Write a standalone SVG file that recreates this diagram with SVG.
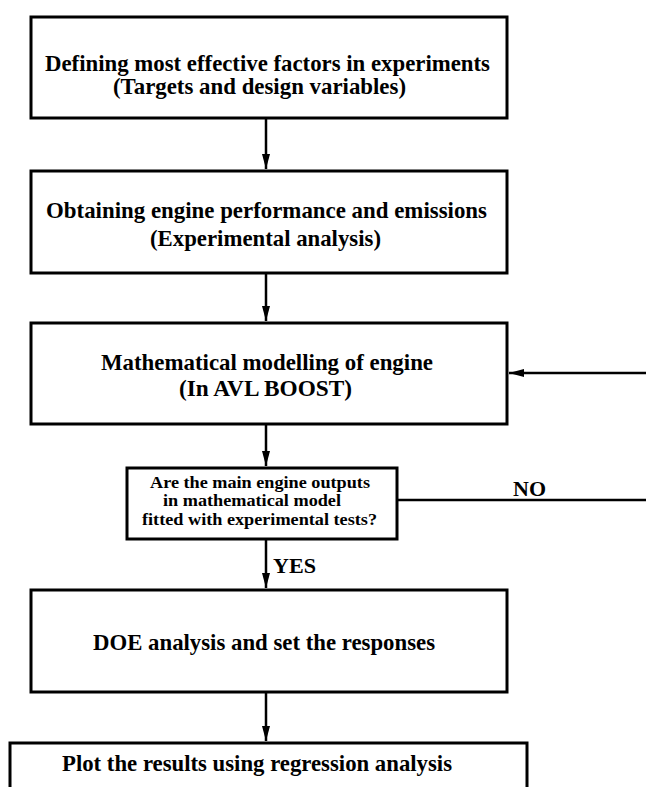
<svg xmlns="http://www.w3.org/2000/svg" width="646" height="787" viewBox="0 0 646 787">
<style>
.box{fill:#fff;stroke:#000;stroke-width:3}
.t{font-family:"Liberation Serif","Times New Roman","DejaVu Serif",serif;font-weight:bold;fill:#000}
.m{font-size:23px}
.s{font-size:17px}
.c{stroke:#000;stroke-width:2.5;fill:none}
</style>
<defs>
<marker id="ah" markerUnits="userSpaceOnUse" markerWidth="16" markerHeight="10" refX="15" refY="5" orient="auto">
<path d="M0,1 L15,5 L0,9 Z" fill="#000"/>
</marker>
</defs>
<rect width="646" height="787" fill="#fff"/>
<g id="connectors">
<line class="c" x1="266" y1="118" x2="266" y2="169" marker-end="url(#ah)"/>
<line class="c" x1="266" y1="273" x2="266" y2="321" marker-end="url(#ah)"/>
<line class="c" x1="266" y1="424" x2="266" y2="466" marker-end="url(#ah)"/>
<line class="c" x1="266" y1="539" x2="266" y2="588" marker-end="url(#ah)"/>
<line class="c" x1="266" y1="692" x2="266" y2="741" marker-end="url(#ah)"/>
<line class="c" x1="397" y1="500" x2="646" y2="500"/>
<line class="c" x1="646" y1="373" x2="509" y2="373" marker-end="url(#ah)"/>
<text class="t" x="513" y="496" font-size="22" textLength="33" lengthAdjust="spacingAndGlyphs">NO</text>
<text class="t" x="273" y="573" font-size="22" textLength="43" lengthAdjust="spacingAndGlyphs">YES</text>
</g>
<g id="n1">
<rect class="box" x="31" y="17" width="476" height="101"/>
<text class="t m" x="45" y="71" textLength="445" lengthAdjust="spacingAndGlyphs">Defining most effective factors in experiments</text>
<text class="t m" x="113" y="94" textLength="293" lengthAdjust="spacingAndGlyphs">(Targets and design variables)</text>
</g>
<g id="n2">
<rect class="box" x="31" y="171" width="476" height="102"/>
<text class="t m" x="46" y="218" textLength="441" lengthAdjust="spacingAndGlyphs">Obtaining engine performance and emissions</text>
<text class="t m" x="150" y="246" textLength="231" lengthAdjust="spacingAndGlyphs">(Experimental analysis)</text>
</g>
<g id="n3">
<rect class="box" x="31" y="323" width="476" height="101"/>
<text class="t m" x="101" y="370" textLength="332" lengthAdjust="spacingAndGlyphs">Mathematical modelling of engine</text>
<text class="t m" x="179" y="396" textLength="173" lengthAdjust="spacingAndGlyphs">(In AVL BOOST)</text>
</g>
<g id="n4">
<rect class="box" x="127" y="468" width="270" height="71"/>
<text class="t s" x="150" y="488" textLength="220" lengthAdjust="spacingAndGlyphs">Are the main engine outputs</text>
<text class="t s" x="163" y="506" textLength="178" lengthAdjust="spacingAndGlyphs">in mathematical model</text>
<text class="t s" x="142" y="525" textLength="235" lengthAdjust="spacingAndGlyphs">fitted with experimental tests?</text>
</g>
<g id="n5">
<rect class="box" x="31" y="590" width="476" height="102"/>
<text class="t" x="93" y="650" font-size="24" textLength="342" lengthAdjust="spacingAndGlyphs">DOE analysis and set the responses</text>
</g>
<g id="n6">
<rect class="box" x="10" y="743" width="517" height="60"/>
<text class="t" x="62" y="771" font-size="24" textLength="390" lengthAdjust="spacingAndGlyphs">Plot the results using regression analysis</text>
</g>
</svg>
